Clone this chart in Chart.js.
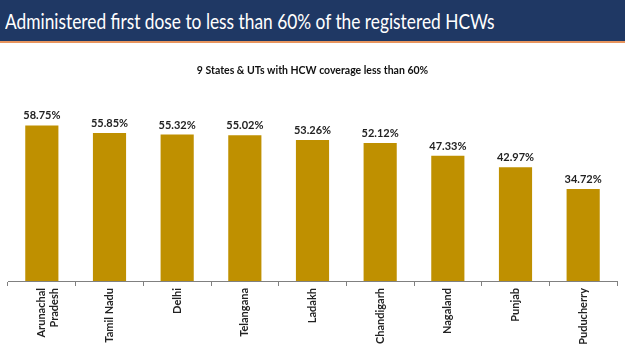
<!DOCTYPE html>
<html>
<head>
<meta charset="utf-8">
<script src="https://cdn.jsdelivr.net/npm/chart.js@4.4.1/dist/chart.umd.min.js"></script>
<style>
  html, body { margin: 0; padding: 0; background: #fff; }
  body { width: 625px; height: 351px; position: relative; overflow: hidden; }
  #header {
    position: absolute; left: 0; top: 0; width: 625px; height: 41px;
    background: #1F3864; border-bottom: 2px solid #E8955E;
  }
  #header span {
    position: absolute; left: 5px; top: 0; white-space: nowrap;
    color: #fff; font-family: Lato, sans-serif; font-size: 21px; line-height: 41px;
    transform: scaleX(0.825); transform-origin: left center;
  }
  #wrap { position: absolute; left: 0; top: 44px; width: 625px; height: 307px; }
</style>
</head>
<body>
<div id="header"><span>Administered first dose to less than 60% of the registered HCWs</span></div>
<div id="wrap"><canvas id="coverage"></canvas></div>
<script>
// 9 States & UTs with HCW coverage less than 60%
var states = [['Arunachal', 'Pradesh'], 'Tamil Nadu', 'Delhi', 'Telangana', 'Ladakh',
              'Chandigarh', 'Nagaland', 'Punjab', 'Puducherry'];
var coverage = [58.75, 55.85, 55.32, 55.02, 53.26, 52.12, 47.33, 42.97, 34.72];

// draws the % value above each bar
var valueLabels = {
    id: 'valueLabels',
    afterDatasetsDraw: function (chart) {
        var ctx = chart.ctx;
        var meta = chart.getDatasetMeta(0);
        ctx.save();
        ctx.font = 'bold 11px Lato, sans-serif';
        ctx.fillStyle = '#222';
        ctx.textAlign = 'center';
        ctx.textBaseline = 'bottom';
        meta.data.forEach(function (bar, i) {
            ctx.fillText(coverage[i].toFixed(2) + '%', bar.x, bar.y - 4);
        });
        ctx.restore();
    }
};

new Chart(document.getElementById('coverage'), {
    type: 'bar',
    data: {
        labels: states,
        datasets: [{
            data: coverage,
            backgroundColor: '#BF9000',
            categoryPercentage: 1,
            barPercentage: 0.49
        }]
    },
    plugins: [valueLabels],
    options: {
        responsive: true,
        maintainAspectRatio: false,
        animation: false,
        layout: { padding: { left: 8, right: 8, top: 0, bottom: 0 } },
        plugins: {
            legend: { display: false },
            tooltip: { enabled: false },
            title: {
                display: true,
                text: '9 States & UTs with HCW coverage less than 60%',
                color: '#111',
                font: { family: 'Lato, sans-serif', size: 10.5, weight: 'bold', lineHeight: 1.2 },
                padding: { top: 20, bottom: 19 }
            }
        },
        scales: {
            y: {
                display: false,
                min: 0,
                max: 70
            },
            x: {
                offset: true,
                border: { color: '#808080', width: 1 },
                grid: {
                    offset: true,
                    drawOnChartArea: false,
                    color: '#808080',
                    tickLength: 5
                },
                ticks: {
                    color: '#222',
                    maxRotation: 90,
                    minRotation: 90,
                    padding: 2,
                    font: { family: 'Lato, sans-serif', size: 11, weight: 'bold', lineHeight: 1.15 }
                },
                afterFit: function (scale) { scale.height = 70; }
            }
        }
    }
});
</script>
</body>
</html>
